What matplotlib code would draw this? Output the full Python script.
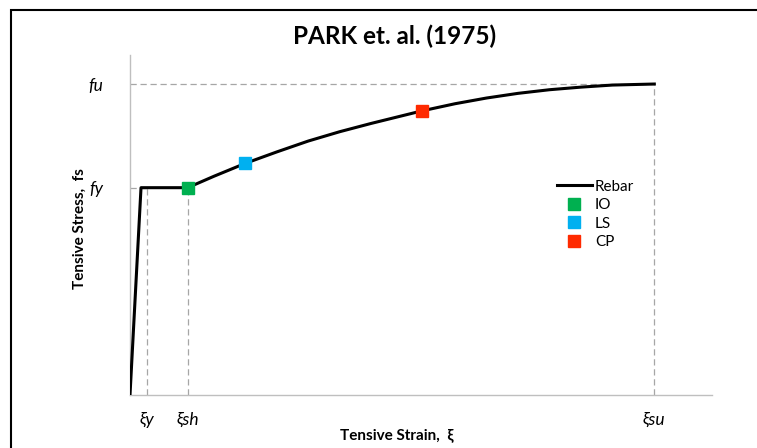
import matplotlib
matplotlib.use("Agg")
import matplotlib.pyplot as plt
from matplotlib.lines import Line2D
from matplotlib.patches import Rectangle

plt.rcParams['font.family'] = ['Lato', 'DejaVu Sans']

# stress-strain curve for the rebar (strain, stress in MPa)
strain = [0, 0.0021, 0.011, 0.016, 0.022, 0.028, 0.034, 0.040, 0.046, 0.0556,
          0.062, 0.068, 0.074, 0.080, 0.086, 0.092, 0.1]
stress = [0, 400, 400, 422, 447, 469, 490, 508, 524, 548,
          562, 573, 582, 589, 594, 598, 600]

# performance levels
perf_names = ["IO", "LS", "CP"]
perf_strain = [0.011, 0.022, 0.0556]
perf_stress = [400, 447, 548]
perf_colors = ["#00b050", "#00b0f0", "#ff2a00"]

# characteristic points
eps_y, eps_sh, eps_su = 0.0032, 0.011, 0.1
f_y, f_u = 400, 600
xtick_vals = [eps_y, eps_sh, eps_su]
xtick_labels = ["ξy", "ξsh", "ξsu"]
ytick_vals = [f_y, f_u]
ytick_labels = ["fy", "fu"]

fig = plt.figure(figsize=(7.57, 4.48), dpi=100)
ax = fig.add_axes([130 / 757, 1 - 395 / 448, 582 / 757, 340 / 448])

GR = "#a6a6a6"
dash = dict(color=GR, lw=0.9, ls=(0, (5, 3)), zorder=1)
ax.plot([0, eps_su], [f_u, f_u], **dash)
ax.plot([eps_su, eps_su], [0, f_u], **dash)
ax.plot([0, eps_y], [f_y, f_y], **dash)
ax.plot([eps_y, eps_y], [0, f_y], **dash)
ax.plot([eps_sh, eps_sh], [0, f_y], **dash)

ax.plot(strain, stress, color="black", lw=2.2, solid_joinstyle="round", zorder=3)
for x, y, c in zip(perf_strain, perf_stress, perf_colors):
    ax.plot(x, y, ls="none", marker="s", ms=8, color=c, mec=c, zorder=4)

ax.set_xlim(0, 0.111)
ax.set_ylim(0, 656)
ax.set_xticks(xtick_vals)
ax.set_xticklabels(xtick_labels, fontsize=12.5, style="italic")
ax.set_yticks(ytick_vals)
ax.set_yticklabels(ytick_labels, fontsize=12.5, style="italic")
ax.tick_params(axis="x", length=0, pad=12)
ax.tick_params(axis="y", length=0, pad=19)
for s in ("top", "right"):
    ax.spines[s].set_visible(False)
for s in ("left", "bottom"):
    ax.spines[s].set_color("#bfbfbf")
    ax.spines[s].set_linewidth(1.0)

ax.set_xlabel("Tensive Strain,  ξ", fontsize=11, fontweight="bold")
ax.xaxis.set_label_coords((397 - 130) / 582, -33 / 340)
ax.set_ylabel("Tensive Stress,  fs", fontsize=11, fontweight="bold")
ax.yaxis.set_label_coords(-(130 - 87) / 582, (395 - 229) / 340)
fig.text(395 / 757, 1 - 36 / 448, "PARK et. al. (1975)", ha="center", va="center",
         fontsize=17.5, fontweight="bold")

handles = [Line2D([], [], color="black", lw=2.2, label="Rebar")]
handles += [Line2D([], [], ls="none", marker="s", ms=8, color=c, mec=c, label=n)
            for n, c in zip(perf_names, perf_colors)]
ax.legend(handles=handles, loc="upper left", bbox_to_anchor=(549 / 757, 1 - 172 / 448),
          bbox_transform=fig.transFigure, frameon=False, fontsize=11,
          handlelength=2.3, handletextpad=0.2, labelspacing=0.3, borderpad=0)

fig.patches.append(Rectangle((11 / 757, -0.1), 1.2, 1 - 10.5 / 448 + 0.1,
                             transform=fig.transFigure, fill=False, ec="black", lw=1.5))

fig.savefig("out.png", dpi=100, facecolor="white")
